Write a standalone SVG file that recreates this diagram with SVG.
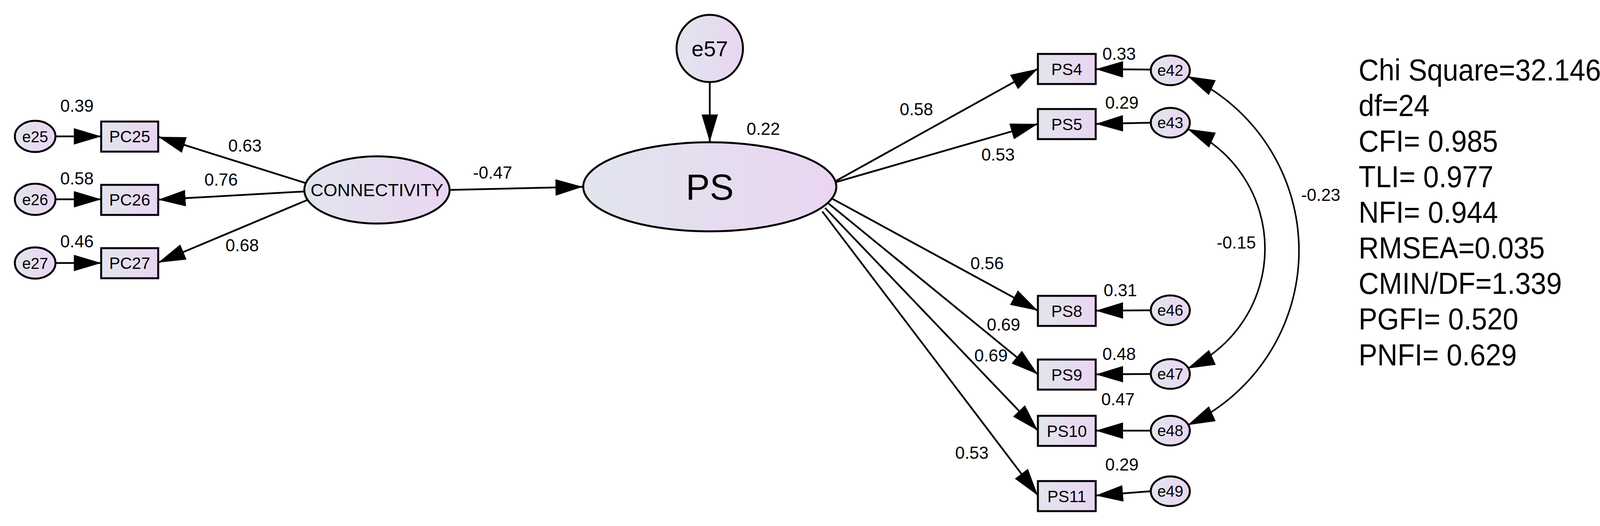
<svg xmlns="http://www.w3.org/2000/svg" width="4187" height="1346" viewBox="0 0 4187 1346">
<defs>
<linearGradient id="g" x1="0" y1="0" x2="1" y2="0"><stop offset="0" stop-color="#e1e5ee"/><stop offset="1" stop-color="#ead5f1"/></linearGradient>
<marker id="ah" markerUnits="userSpaceOnUse" markerWidth="72" markerHeight="44" refX="70" refY="21" orient="auto-start-reverse"><path d="M0,0 L70,21 L0,42 z" fill="#000"/></marker>
<style>
.n{fill:url(#g);stroke:#000;stroke-width:5}
.t{font-family:"Liberation Sans",Arial,sans-serif;fill:#000;text-anchor:middle}
.c{stroke:#000;stroke-width:4.5;fill:none;marker-end:url(#ah)}
.d{stroke:#000;stroke-width:4;fill:none;marker-end:url(#ah);marker-start:url(#ah)}
.l{font-family:"Liberation Sans",Arial,sans-serif;font-size:44px;text-anchor:middle}
.s{font-family:"Liberation Sans",Arial,sans-serif;font-size:78px}
</style>
</defs>
<rect width="4187" height="1346" fill="#fff"/>
<g id="connectors">
<line class="c" x1="144" y1="349" x2="259" y2="349"/>
<line class="c" x1="144" y1="510" x2="259" y2="510"/>
<line class="c" x1="144" y1="673" x2="259" y2="673"/>
<line class="c" x1="781" y1="468" x2="405" y2="350"/>
<line class="c" x1="779" y1="490" x2="405" y2="511"/>
<line class="c" x1="786" y1="512" x2="405" y2="672"/>
<line class="c" x1="1151" y1="486" x2="1492" y2="478"/>
<line class="c" x1="1817" y1="210" x2="1817" y2="363"/>
<line class="c" x1="2140" y1="463" x2="2657" y2="176"/>
<line class="c" x1="2140" y1="466" x2="2657" y2="317"/>
<line class="c" x1="2126" y1="506" x2="2657" y2="795"/>
<line class="c" x1="2119" y1="519" x2="2657" y2="958"/>
<line class="c" x1="2112" y1="532" x2="2657" y2="1102"/>
<line class="c" x1="2105" y1="541" x2="2657" y2="1268"/>
<line class="c" x1="2946" y1="178" x2="2805" y2="177"/>
<line class="c" x1="2946" y1="314" x2="2805" y2="317"/>
<line class="c" x1="2946" y1="794" x2="2805" y2="795"/>
<line class="c" x1="2946" y1="957" x2="2805" y2="958"/>
<line class="c" x1="2946" y1="1102" x2="2805" y2="1102"/>
<line class="c" x1="2946" y1="1257" x2="2805" y2="1268"/>
<path class="d" d="M3040,195 A492,492 0 0 1 3040,1088"/>
<path class="d" d="M3040,330 A336,336 0 0 1 3040,943"/>
</g>
<g id="e25"><ellipse class="n" cx="90" cy="349" rx="52" ry="40"/><text class="t" x="90" y="364" font-size="40">e25</text></g>
<g id="e26"><ellipse class="n" cx="90" cy="510" rx="52" ry="40"/><text class="t" x="90" y="525" font-size="40">e26</text></g>
<g id="e27"><ellipse class="n" cx="90" cy="673" rx="52" ry="40"/><text class="t" x="90" y="688" font-size="40">e27</text></g>
<g id="PC25"><rect class="n" x="259" y="311" width="146" height="77"/><text class="t" x="332" y="364" font-size="42">PC25</text></g>
<g id="PC26"><rect class="n" x="259" y="473" width="146" height="77"/><text class="t" x="332" y="526" font-size="42">PC26</text></g>
<g id="PC27"><rect class="n" x="259" y="635" width="146" height="77"/><text class="t" x="332" y="688" font-size="42">PC27</text></g>
<g id="CONNECTIVITY"><ellipse class="n" cx="965" cy="486" rx="186" ry="86"/><text class="t" x="965" y="502" font-size="44" textLength="340" lengthAdjust="spacingAndGlyphs">CONNECTIVITY</text></g>
<g id="e57"><ellipse class="n" cx="1817" cy="124" rx="85" ry="86"/><text class="t" x="1817" y="144" font-size="56">e57</text></g>
<g id="PS"><ellipse class="n" cx="1817" cy="478" rx="324" ry="114"/><text class="t" x="1817" y="511" font-size="92">PS</text></g>
<g id="PS4"><rect class="n" x="2657" y="138" width="148" height="77"/><text class="t" x="2731" y="192" font-size="42">PS4</text></g>
<g id="PS5"><rect class="n" x="2657" y="279" width="148" height="77"/><text class="t" x="2731" y="333" font-size="42">PS5</text></g>
<g id="PS8"><rect class="n" x="2657" y="757" width="148" height="77"/><text class="t" x="2731" y="811" font-size="42">PS8</text></g>
<g id="PS9"><rect class="n" x="2657" y="920" width="148" height="77"/><text class="t" x="2731" y="974" font-size="42">PS9</text></g>
<g id="PS10"><rect class="n" x="2657" y="1064" width="148" height="77"/><text class="t" x="2731" y="1118" font-size="42">PS10</text></g>
<g id="PS11"><rect class="n" x="2657" y="1231" width="148" height="77"/><text class="t" x="2731" y="1285" font-size="42">PS11</text></g>
<g id="e42"><ellipse class="n" cx="2996" cy="180" rx="50" ry="38"/><text class="t" x="2996" y="194" font-size="40">e42</text></g>
<g id="e43"><ellipse class="n" cx="2996" cy="314" rx="50" ry="38"/><text class="t" x="2996" y="328" font-size="40">e43</text></g>
<g id="e46"><ellipse class="n" cx="2996" cy="794" rx="50" ry="38"/><text class="t" x="2996" y="808" font-size="40">e46</text></g>
<g id="e47"><ellipse class="n" cx="2996" cy="957" rx="50" ry="38"/><text class="t" x="2996" y="971" font-size="40">e47</text></g>
<g id="e48"><ellipse class="n" cx="2996" cy="1102" rx="50" ry="38"/><text class="t" x="2996" y="1116" font-size="40">e48</text></g>
<g id="e49"><ellipse class="n" cx="2996" cy="1257" rx="50" ry="38"/><text class="t" x="2996" y="1271" font-size="40">e49</text></g>
<g id="labels">
<text class="l" x="197" y="286">0.39</text>
<text class="l" x="197" y="472">0.58</text>
<text class="l" x="197" y="633">0.46</text>
<text class="l" x="627" y="388">0.63</text>
<text class="l" x="566" y="475">0.76</text>
<text class="l" x="620" y="643">0.68</text>
<text class="l" x="1261" y="457">-0.47</text>
<text class="l" x="1954" y="345">0.22</text>
<text class="l" x="2346" y="295">0.58</text>
<text class="l" x="2555" y="411">0.53</text>
<text class="l" x="2527" y="689">0.56</text>
<text class="l" x="2569" y="846">0.69</text>
<text class="l" x="2537" y="925">0.69</text>
<text class="l" x="2488" y="1174">0.53</text>
<text class="l" x="2865" y="153">0.33</text>
<text class="l" x="2872" y="278">0.29</text>
<text class="l" x="2868" y="758">0.31</text>
<text class="l" x="2865" y="921">0.48</text>
<text class="l" x="2862" y="1037">0.47</text>
<text class="l" x="2872" y="1204">0.29</text>
<text class="l" x="3165" y="636">-0.15</text>
<text class="l" x="3381" y="514">-0.23</text>
</g>
<g id="fit" transform="translate(3478,0) scale(0.92,1) translate(-3478,0)">
<text class="s" x="3478" y="206">Chi Square=32.146</text>
<text class="s" x="3478" y="297">df=24</text>
<text class="s" x="3478" y="388">CFI= 0.985</text>
<text class="s" x="3478" y="479">TLI=  0.977</text>
<text class="s" x="3478" y="570">NFI= 0.944</text>
<text class="s" x="3478" y="661">RMSEA=0.035</text>
<text class="s" x="3478" y="752">CMIN/DF=1.339</text>
<text class="s" x="3478" y="843">PGFI= 0.520</text>
<text class="s" x="3478" y="935">PNFI= 0.629</text>
</g>
</svg>
